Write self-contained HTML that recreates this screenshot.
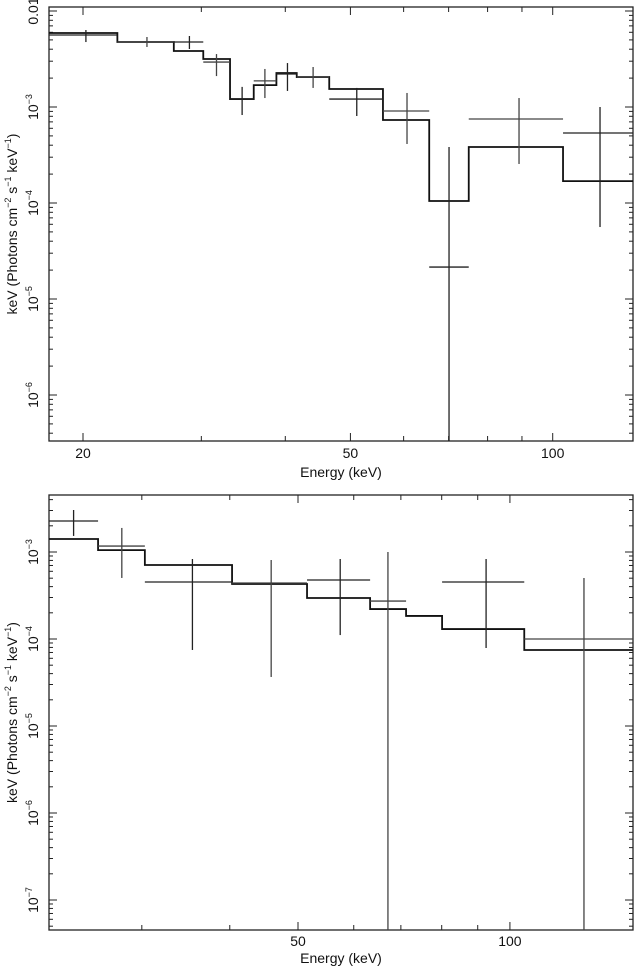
<!DOCTYPE html>
<html><head><meta charset="utf-8">
<style>
html,body{margin:0;padding:0;background:#fff;}
svg{display:block;font-family:"Liberation Sans",sans-serif;}
</style></head>
<body>
<svg id="chart" width="635" height="968" viewBox="0 0 635 968" xmlns="http://www.w3.org/2000/svg"></svg>
<script>
// ---- Top panel data ----
const topModelEdges = [17.8,22.5,27.3,30.2,33.1,35.9,38.8,41.6,46.5,55.9,65.5,75.0,103.6,131.7];
const topModelValues = [5.90e-3,4.75e-3,3.83e-3,3.16e-3,1.21e-3,1.69e-3,2.26e-3,2.05e-3,1.54e-3,7.32e-4,1.05e-4,3.83e-4,1.69e-4];
const topDataE = [20.2,24.9,28.8,31.6,34.5,37.3,40.3,44.0,51.1,60.7,70.1,89.1,117.6];
const topDataELo = [17.8,22.5,27.3,30.2,33.1,35.9,38.8,41.6,46.5,55.9,65.5,75.0,103.6];
const topDataEHi = [22.5,27.3,30.2,33.1,35.9,38.8,41.6,46.5,55.9,65.5,75.0,103.6,131.7];
const topDataV = [5.62e-3,4.75e-3,4.75e-3,2.94e-3,1.21e-3,1.87e-3,2.21e-3,2.05e-3,1.21e-3,9.08e-4,2.15e-5,7.50e-4,5.36e-4];
const topDataVLo = [4.75e-3,4.22e-3,4.02e-3,2.10e-3,8.25e-4,1.24e-3,1.47e-3,1.58e-3,8.06e-4,4.12e-4,1e-9,2.55e-4,5.62e-5];
const topDataVHi = [6.34e-3,5.36e-3,5.49e-3,3.56e-3,1.62e-3,2.49e-3,2.87e-3,2.61e-3,1.58e-3,1.40e-3,3.83e-4,1.24e-3,1.0e-3];
const topXTickLabels = [20,50,100];
const topYTickLabels = ["0.01","10|−3","10|−4","10|−5","10|−6"];
// ---- Bottom panel data ----
const botModelEdges = [22.1,26.0,30.3,40.3,51.5,63.3,71.2,80.1,104.8,149.5];
const botModelValues = [1.41e-3,1.05e-3,7.09e-4,4.29e-4,2.96e-4,2.21e-4,1.84e-4,1.30e-4,7.48e-5];
const botDataE = [24.0,28.1,35.4,45.8,57.4,67.1,92.5,127.4];
const botDataELo = [22.1,26.0,30.3,40.3,51.5,63.3,80.1,104.8];
const botDataEHi = [26.0,30.3,40.3,51.5,63.3,71.2,104.8,149.5];
const botDataV = [2.27e-3,1.17e-3,4.52e-4,4.40e-4,4.77e-4,2.73e-4,4.52e-4,1.0e-4];
const botDataVLo = [1.53e-3,5.03e-4,7.48e-5,3.66e-5,1.11e-4,1e-9,7.88e-5,1e-9];
const botDataVHi = [3.04e-3,1.89e-3,8.31e-4,8.09e-4,8.31e-4,1.0e-3,8.31e-4,5.03e-4];
const botXTickLabels = [50,100];
const botYTickLabels = ["10|−3","10|−4","10|−5","10|−6","10|−7"];

const NS="http://www.w3.org/2000/svg";
const svg=document.getElementById('chart');
function mk(tag,attrs,parent){const e=document.createElementNS(NS,tag);for(const k in attrs)e.setAttribute(k,attrs[k]);(parent||svg).appendChild(e);return e;}

function panel(cfg){
  const {L,R,T,B,x,y,name}=cfg;
  const g=mk('g',{});
  
  
  const clipId=name+'-clip';
  const cp=mk('clipPath',{id:clipId},g);mk('rect',{x:L,y:T,width:R-L,height:B-T},cp);
  for(let d=10;d<=1000;d*=10){for(let m=1;m<=9;m++){const e=m*d;const px=x(e);if(px<L-0.1||px>R+0.1)continue;
    const major=cfg.xTickLabels.includes(e);const len=major?8:5;
    const t1=mk('line',{x1:px,y1:B,x2:px,y2:B-len,stroke:'#222','stroke-width':1},g);
    
    
    mk('line',{x1:px,y1:T,x2:px,y2:T+len,stroke:'#222','stroke-width':1},g);}}
  cfg.xTickLabels.forEach(v=>{const t=mk('text',{x:x(v),y:B+cfg.lblOff,'text-anchor':'middle','font-size':14,fill:'#111'},g);t.textContent=String(v);
    
    });
  for(let p=-9;p<=-1;p++){for(let m=1;m<=9;m++){const v=m*Math.pow(10,p);const py=y(v);if(py<T-0.1||py>B+0.1)continue;
    const len=m===1?8:4;
    const t1=mk('line',{x1:L,y1:py,x2:L+len,y2:py,stroke:'#222','stroke-width':1},g);
    
    
    mk('line',{x1:R,y1:py,x2:R-len,y2:py,stroke:'#222','stroke-width':1},g);}}
  cfg.yTickLabels.forEach(lbl=>{
    const parts=lbl.split('|');let v;
    if(parts.length===1)v=parseFloat(parts[0]);else v=Math.pow(10,parseFloat(parts[1].replace('−','-')));
    const py=y(v);
    const t=mk('text',{x:0,y:0,'text-anchor':'middle','font-size':14,fill:'#111',transform:`translate(38,${py}) rotate(-90)`},g);
    
    
    if(parts.length===1)t.textContent=parts[0];
    else{t.appendChild(document.createTextNode(parts[0]));const s=mk('tspan',{'font-size':9,dy:-6},t);s.textContent=parts[1];}
  });
  const fr=mk('rect',{x:L,y:T,width:R-L,height:B-T,fill:'none',stroke:'#222','stroke-width':1.3},g);
  
  
  let d='';cfg.modelValues.forEach((v,i)=>{const x0=x(cfg.modelEdges[i]),x1=x(cfg.modelEdges[i+1]),py=y(v);d+=(i===0?`M${x0},${py}`:`L${x0},${py}`)+`L${x1},${py}`;});
  const mp=mk('path',{d,fill:'none',stroke:'#111','stroke-width':1.8,'clip-path':`url(#${clipId})`},g);
  
  
  cfg.dataE.forEach((e,i)=>{
    const cg=mk('g',{'clip-path':`url(#${clipId})`,stroke:i%2?'#444':'#222','stroke-width':1.3},g);
    
    
    const py=y(cfg.dataV[i]),px=x(e);
    mk('line',{x1:x(cfg.dataELo[i]),y1:py,x2:x(cfg.dataEHi[i]),y2:py},cg);
    mk('line',{x1:px,y1:y(cfg.dataVHi[i]),x2:px,y2:Math.min(y(cfg.dataVLo[i]),B)},cg);
  });
  const xt=mk('text',{x:(L+R)/2,y:B+cfg.titleOff,'text-anchor':'middle','font-size':14,fill:'#111'},g);
  xt.textContent='Energy (keV)';
  
  
  const yt=mk('text',{x:0,y:0,'text-anchor':'middle','font-size':14,fill:'#111',transform:`translate(17,${(T+B)/2}) rotate(-90)`},g);
  
  
  const sup=(s)=>{const sp=mk('tspan',{'font-size':9,dy:-6},yt);sp.textContent=s;const b=mk('tspan',{dy:6},yt);return b;};
  yt.appendChild(document.createTextNode('keV (Photons cm'));
  sup('−2').textContent=' s';
  sup('−1').textContent=' keV';
  sup('−1').textContent=')';
}

panel({name:'top-panel',L:49,R:633,T:7,B:441,lblOff:17,titleOff:36,
  x:e=>83+672*Math.log10(e/20), y:v=>107-96*Math.log10(v/1e-3),
  xTickLabels:topXTickLabels,yTickLabels:topYTickLabels,
  modelEdges:topModelEdges,modelValues:topModelValues,
  dataE:topDataE,dataELo:topDataELo,dataEHi:topDataEHi,dataV:topDataV,dataVLo:topDataVLo,dataVHi:topDataVHi});
panel({name:'bottom-panel',L:49,R:633,T:495,B:930,lblOff:16,titleOff:33,
  x:e=>298+704*Math.log10(e/50), y:v=>552-87*Math.log10(v/1e-3),
  xTickLabels:botXTickLabels,yTickLabels:botYTickLabels,
  modelEdges:botModelEdges,modelValues:botModelValues,
  dataE:botDataE,dataELo:botDataELo,dataEHi:botDataEHi,dataV:botDataV,dataVLo:botDataVLo,dataVHi:botDataVHi});
</script>
</body></html>
